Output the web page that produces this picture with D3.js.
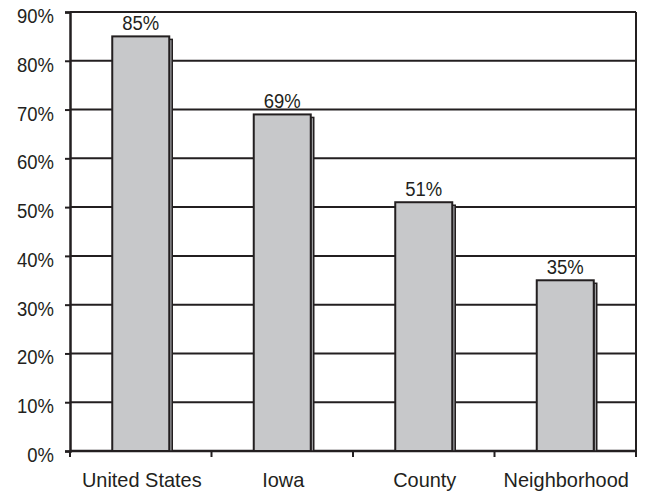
<!DOCTYPE html>
<html>
<head>
<meta charset="utf-8">
<script src="https://cdn.jsdelivr.net/npm/d3@7/dist/d3.min.js"></script>
<style>
  html, body { margin: 0; padding: 0; background: #fff; }
  svg { display: block; }
  text { font-family: "Liberation Sans", Arial, sans-serif; fill: #231f20; }
</style>
</head>
<body>
<svg id="chart" width="651" height="491"></svg>
<script>
// Share of respondents by geographic level
const categories = ["United States", "Iowa", "County", "Neighborhood"];
const values = [85, 69, 51, 35];
const yTicks = [0, 10, 20, 30, 40, 50, 60, 70, 80, 90];

const W = 651, H = 491;
const margin = { left: 70, right: 15, top: 12, bottom: 40 };
const x0 = margin.left, x1 = W - margin.right;
const yTop = margin.top, yBot = H - margin.bottom;

const svg = d3.select("#chart");
const ink = "#231f20";
const narrow = 0.88; // horizontal squeeze for a condensed look

const x = d3.scaleBand().domain(categories).range([x0, x1]).paddingInner(0).paddingOuter(0);
const y = d3.scaleLinear().domain([0, 90]).range([yBot, yTop]);

// horizontal gridlines
svg.append("g")
  .selectAll("line")
  .data(yTicks)
  .join("line")
  .attr("x1", x0).attr("x2", x1)
  .attr("y1", d => y(d)).attr("y2", d => y(d))
  .attr("stroke", ink).attr("stroke-width", 2);

// right frame edge
svg.append("line")
  .attr("x1", x1).attr("x2", x1)
  .attr("y1", y(90)).attr("y2", y(0))
  .attr("stroke", ink).attr("stroke-width", 2);

// y axis
const yAxis = d3.axisLeft(y).tickValues(yTicks).tickFormat(d => d + "%").tickSize(5).tickPadding(11);
const gy = svg.append("g").attr("transform", `translate(${x0},0)`).call(yAxis);
gy.select(".domain").attr("stroke", ink).attr("stroke-width", 2.5);
gy.selectAll(".tick line").attr("stroke", ink).attr("stroke-width", 2);
gy.selectAll(".tick text")
  .attr("font-size", 21)
  .style("font-family", null)
  .attr("fill", ink)
  .attr("x", 0)
  .attr("dy", "0.5em")
  .attr("transform", `translate(-16,0) scale(${narrow},1)`);

// x axis with ticks at the band boundaries
const boundaries = categories.map(c => x(c)).concat([x1]);
const gx = svg.append("g");
gx.append("line").attr("x1", x0).attr("x2", x1).attr("y1", yBot).attr("y2", yBot)
  .attr("stroke", ink).attr("stroke-width", 2.5);
gx.selectAll("line.tk").data(boundaries).join("line").attr("class", "tk")
  .attr("x1", d => d).attr("x2", d => d)
  .attr("y1", yBot).attr("y2", yBot + 6)
  .attr("stroke", ink).attr("stroke-width", 2);
gx.selectAll("text").data(categories).join("text")
  .attr("transform", d => `translate(${x(d) + x.bandwidth() / 2 + 1},${yBot + 36}) scale(0.95,1)`)
  .attr("text-anchor", "middle")
  .attr("font-size", 21)
  .text(d => d);

// bars with a narrow shaded side
const barW = 57, depth = 3;
const bars = svg.append("g").selectAll("g").data(categories.map((c, i) => ({ c, v: values[i] }))).join("g");
const bx = d => x(d.c) + x.bandwidth() / 2 - barW / 2;

bars.append("rect")
  .attr("x", d => bx(d) + barW)
  .attr("y", d => y(d.v) + depth)
  .attr("width", depth)
  .attr("height", d => yBot - y(d.v) - depth)
  .attr("fill", "#9d9ea0").attr("stroke", ink).attr("stroke-width", 1.5);

bars.append("rect")
  .attr("x", bx)
  .attr("y", d => y(d.v))
  .attr("width", barW)
  .attr("height", d => yBot - y(d.v))
  .attr("fill", "#c7c8ca").attr("stroke", ink).attr("stroke-width", 2);

bars.append("text")
  .attr("transform", d => `translate(${bx(d) + barW / 2},${y(d.v) - 6}) scale(${narrow},1)`)
  .attr("text-anchor", "middle")
  .attr("font-size", 21)
  .text(d => d.v + "%");
</script>
</body>
</html>
